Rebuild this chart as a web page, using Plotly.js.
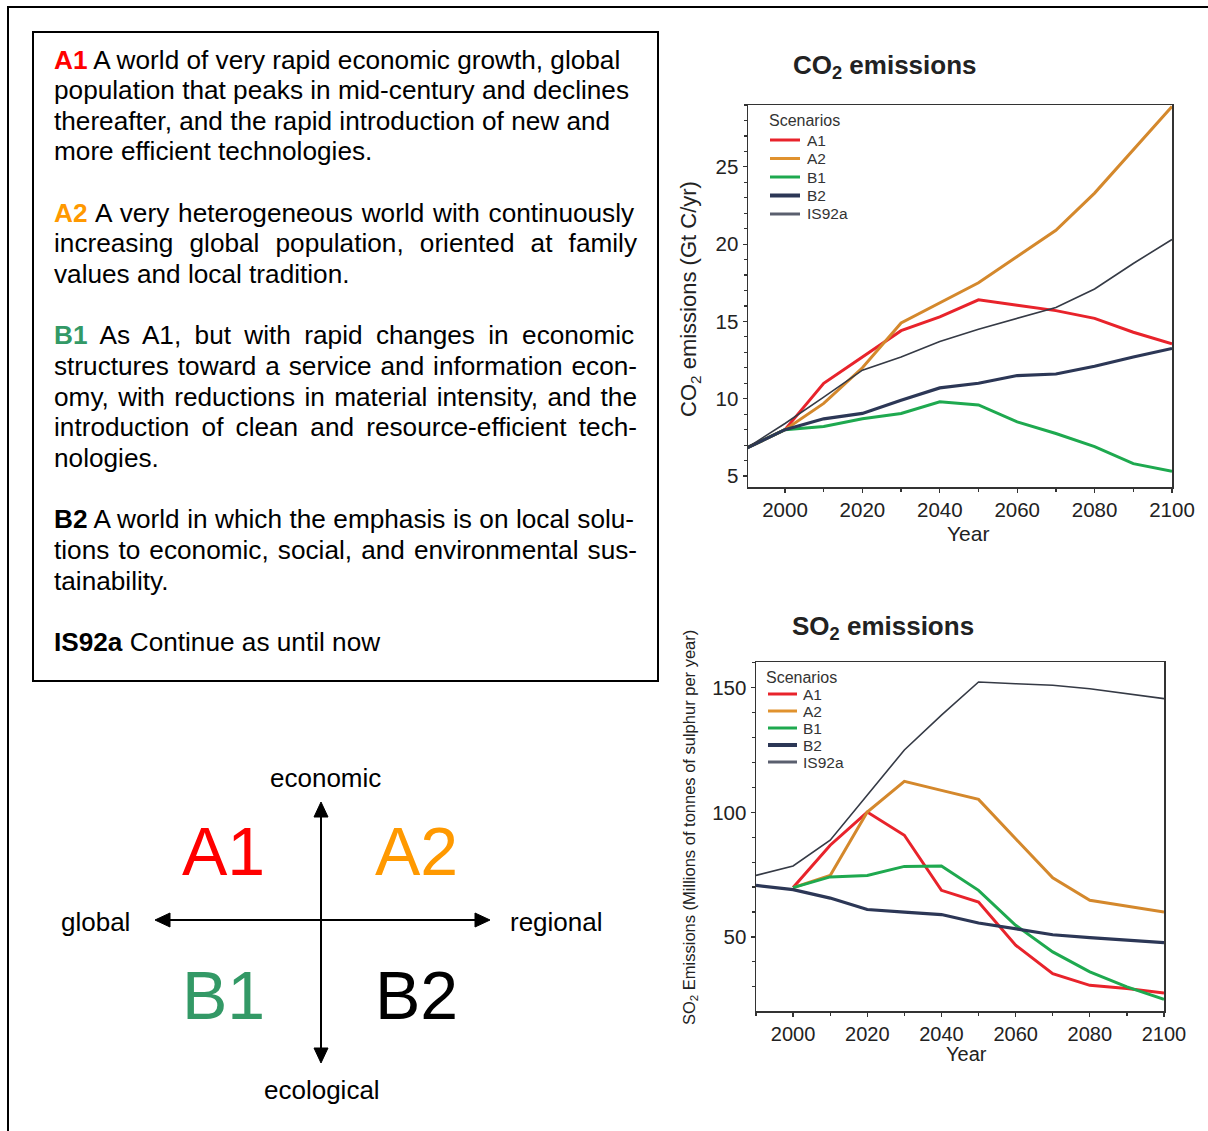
<!DOCTYPE html>
<html><head><meta charset="utf-8">
<script src="https://cdn.plot.ly/plotly-3.0.1.min.js"></script>
<style>html,body{margin:0;padding:0;overflow:hidden;background:#fff}#chart{width:1208px;height:1131px}</style>
</head><body><div id="chart"></div>
<script>
// ---------- data ----------
const years = [1990, 2000, 2010, 2020, 2030, 2040, 2050, 2060, 2070, 2080, 2090, 2100];
const scenarios = ['A1', 'A2', 'B1', 'B2', 'IS92a'];

const co2_A1    = [6.8, 8.0, 11.0, 12.7, 14.4, 15.3, 16.4, 16.05, 15.7, 15.2, 14.3, 13.55];
const co2_A2    = [6.8, 8.0, 9.7, 12.0, 14.9, 16.2, 17.5, 19.2, 20.9, 23.3, 26.1, 28.9];
const co2_B1    = [6.8, 8.0, 8.2, 8.7, 9.05, 9.8, 9.6, 8.5, 7.75, 6.9, 5.8, 5.3];
const co2_B2    = [6.8, 8.0, 8.7, 9.05, 9.9, 10.7, 11.0, 11.5, 11.6, 12.1, 12.7, 13.25];
const co2_IS92a = [6.8, 8.4, 10.1, 11.85, 12.7, 13.7, 14.5, 15.2, 15.9, 17.1, 18.75, 20.3];

const so2_A1    = [null, 69.8, 86.8, 100.1, 90.8, 68.7, 64.0, 46.7, 35.3, 30.6, 29.3, 27.5];
const so2_A2    = [null, 69.8, 74.7, 100.1, 112.4, 108.8, 105.2, 89.4, 73.7, 64.7, 62.3, 60.0];
const so2_B1    = [null, 69.8, 74.1, 74.7, 78.3, 78.5, 68.7, 54.7, 44.0, 36.0, 30.0, 25.0];
const so2_B2    = [70.7, 69.0, 65.6, 61.0, 60.0, 59.0, 55.6, 53.3, 50.9, 49.7, 48.7, 47.7];
const so2_IS92a = [74.7, 78.5, 88.8, 107.0, 125.0, 139.0, 152.3, 151.6, 151.0, 149.6, 147.6, 145.6];

const xTickVals = [2000, 2020, 2040, 2060, 2080, 2100];
const co2TickVals = [5, 10, 15, 20, 25];
const so2TickVals = [50, 100, 150];

const co2Title = 'CO<sub>2</sub> emissions';
const so2Title = 'SO<sub>2</sub> emissions';
const co2YTitle = 'CO<sub>2</sub> emissions (Gt C/yr)';
const so2YTitle = 'SO<sub>2</sub> Emissions (Millions of tonnes of sulphur per year)';
const xTitle = 'Year';
const legendTitle = 'Scenarios';

// description text: [prefix, prefix colour, rest, justified]
const descLines = [
  ['A1', '#ff0000', ' A world of very rapid economic growth, global', false],
  ['', '', 'population that peaks in mid-century and declines', false],
  ['', '', 'thereafter, and the rapid introduction of new and', false],
  ['', '', 'more efficient technologies.', false],
  null,
  ['A2', '#ff9900', ' A very heterogeneous world with continuously', true],
  ['', '', 'increasing global population, oriented at family', true],
  ['', '', 'values and local tradition.', false],
  null,
  ['B1', '#339966', ' As A1, but with rapid changes in economic', true],
  ['', '', 'structures toward a service and information econ-', true],
  ['', '', 'omy, with reductions in material intensity, and the', true],
  ['', '', 'introduction of clean and resource-efficient tech-', true],
  ['', '', 'nologies.', false],
  null,
  ['B2', '#000000', ' A world in which the emphasis is on local solu-', true],
  ['', '', 'tions to economic, social, and environmental sus-', true],
  ['', '', 'tainability.', false],
  null,
  ['IS92a', '#000000', ' Continue as until now', false]
];

const quadLabels = ['A1', 'A2', 'B1', 'B2'];
const quadColors = ['#ff0000', '#ff9900', '#339966', '#000000'];
const axisWords = ['economic', 'global', 'regional', 'ecological'];

// ---------- styling ----------
const W = 1208, H = 1131;
const px = x => x / W;
const py = y => 1 - y / H;
const FONT = '"Liberation Sans", Arial, Helvetica, sans-serif';
const lineColors = {A1: '#e8232b', A2: '#d4882c', B1: '#1ea94f', B2: '#2c3756', IS92a: '#353a45'};
const lineWidths = {A1: 3, A2: 3, B1: 3, B2: 3.2, IS92a: 1.6};
const legColors = {A1: '#e8232b', A2: '#e0922e', B1: '#1ea94f', B2: '#2c3756', IS92a: '#5a5f6e'};
const legWidths = {A1: 3, A2: 3, B1: 3, B2: 4, IS92a: 3};

const co2Data = {A1: co2_A1, A2: co2_A2, B1: co2_B1, B2: co2_B2, IS92a: co2_IS92a};
const so2Data = {A1: so2_A1, A2: so2_A2, B1: so2_B1, B2: so2_B2, IS92a: so2_IS92a};

const traces = [];
scenarios.forEach(s => traces.push({
  x: years, y: co2Data[s], name: s, type: 'scatter', mode: 'lines',
  line: {color: lineColors[s], width: lineWidths[s]}, xaxis: 'x', yaxis: 'y', showlegend: false
}));
scenarios.forEach(s => traces.push({
  x: years, y: so2Data[s], name: s, type: 'scatter', mode: 'lines',
  line: {color: lineColors[s], width: lineWidths[s]}, xaxis: 'x2', yaxis: 'y2', showlegend: false
}));

function axisBase(extra) {
  return Object.assign({
    showline: true, mirror: true, linecolor: '#333', linewidth: 1.5,
    showgrid: false, zeroline: false, ticks: 'outside', ticklen: 4, tickwidth: 1.2, tickcolor: '#333',
    tickfont: {family: FONT, size: 20.5, color: '#222'}, fixedrange: true
  }, extra);
}

// text measuring for justified lines
const ctx = document.createElement('canvas').getContext('2d');
const FS = 26.2;
function tw(t, bold) { ctx.font = (bold ? 'bold ' : '') + FS + 'px "Liberation Sans"'; return ctx.measureText(t).width; }

const annotations = [];
const shapes = [];
const LEFT = 54, RIGHT = 637;
descLines.forEach((ln, i) => {
  if (!ln) return;
  const [pre, col, rest, just] = ln;
  let ws = 0;
  if (just) {
    const total = tw(pre, true) + tw(rest, false);
    const nsp = (pre + rest).split(' ').length - 1;
    ws = (RIGHT - LEFT - total) / nsp;
  }
  let txt = '';
  if (pre) txt += '<span style="font-weight:bold;color:' + col + '">' + pre + '</span>';
  txt += '<span style="word-spacing:' + ws.toFixed(2) + 'px">' + rest + '</span>';
  annotations.push({
    xref: 'paper', yref: 'paper', x: px(LEFT - 2), y: py(59.5 + 30.65 * i),
    xanchor: 'left', yanchor: 'middle', showarrow: false, align: 'left',
    text: txt, font: {family: FONT, size: FS, color: '#000'}
  });
});

function ann(x, y, text, size, color, extra) {
  annotations.push(Object.assign({xref: 'paper', yref: 'paper', x: px(x), y: py(y), xanchor: 'center', yanchor: 'middle',
    showarrow: false, text: text, font: {family: FONT, size: size, color: color}}, extra || {}));
}

// chart titles and axis titles
ann(885, 67, '<b>' + co2Title + '</b>', 26, '#222');
ann(883, 628, '<b>' + so2Title + '</b>', 26, '#222');
ann(690, 299, co2YTitle, 22, '#222', {textangle: -90});
ann(690, 828, so2YTitle, 16.5, '#222', {textangle: -90});
ann(968, 533, xTitle, 21, '#222');
ann(966, 1054, xTitle, 20, '#222');

// legends (drawn as text + sample lines)
function legend(x0, yTitle, yFirst, step, lineX0, lineX1, textX) {
  ann(x0, yTitle, legendTitle, 16, '#333', {xanchor: 'left'});
  scenarios.forEach((s, i) => {
    const y = yFirst + step * i;
    shapes.push({type: 'line', xref: 'paper', yref: 'paper', x0: px(lineX0), x1: px(lineX1), y0: py(y), y1: py(y),
      line: {color: legColors[s], width: legWidths[s]}});
    ann(textX, y, s, 15.5, '#333', {xanchor: 'left'});
  });
}
legend(767, 120, 140, 18.5, 770, 800, 805);
legend(764, 677, 694, 17, 768, 797, 801);

// quadrant diagram
const quadPos = [[223, 851], [416, 851], [223, 995], [416, 995]];
quadLabels.forEach((q, i) => ann(quadPos[i][0], quadPos[i][1], q, 68, quadColors[i]));
const wordPos = [[325, 778], [95, 922], [556, 922], [322, 1090]];
axisWords.forEach((wd, i) => ann(wordPos[i][0], wordPos[i][1], wd, 26, '#000'));

// shapes
function rectPx(x0, y0, x1, y1, w) {
  return {type: 'rect', xref: 'paper', yref: 'paper', x0: px(x0), x1: px(x1), y0: py(y1), y1: py(y0),
    line: {color: '#000', width: w}, fillcolor: 'rgba(0,0,0,0)'};
}
function linePx(x0, y0, x1, y1) {
  return {type: 'line', xref: 'paper', yref: 'paper', x0: px(x0), x1: px(x1), y0: py(y0), y1: py(y1), line: {color: '#000', width: 2}};
}
function triPx(p) {
  const d = 'M' + p.map(q => px(q[0]) + ',' + py(q[1])).join('L') + 'Z';
  return {type: 'path', xref: 'paper', yref: 'paper', path: d, fillcolor: '#000', line: {color: '#000', width: 1}};
}
const cx = 321, cy = 920;
shapes.push(
  rectPx(8, 7, 1230, 1150, 2),
  rectPx(33, 32, 658, 681, 2),
  linePx(168, cy, 478, cy),
  linePx(cx, 815, cx, 1050),
  triPx([[155, cy], [170, cy - 7], [170, cy + 7]]),
  triPx([[490, cy], [475, cy - 7], [475, cy + 7]]),
  triPx([[cx, 802], [cx - 7, 817], [cx + 7, 817]]),
  triPx([[cx, 1063], [cx - 7, 1048], [cx + 7, 1048]])
);

const layout = {
  width: W, height: H, margin: {l: 0, r: 0, t: 0, b: 0},
  paper_bgcolor: '#fff', plot_bgcolor: '#fff', showlegend: false,
  font: {family: FONT},
  xaxis: axisBase({anchor: 'y', domain: [px(748), px(1172)], range: [1990.44, 2100], tickvals: xTickVals,
    minor: {dtick: 10, tick0: 2000, ticks: 'outside', ticklen: 3, tickcolor: '#333', showgrid: false}}),
  yaxis: axisBase({anchor: 'x', domain: [py(487), py(105)], range: [4.29, 29], tickvals: co2TickVals,
    minor: {dtick: 1, tick0: 0, ticks: 'outside', ticklen: 3, tickcolor: '#333', showgrid: false}}),
  xaxis2: axisBase({anchor: 'y2', domain: [px(756), px(1164)], range: [1990, 2100], tickvals: xTickVals,
    tickfont: {family: FONT, size: 20, color: '#222'},
    minor: {dtick: 10, tick0: 2000, ticks: 'outside', ticklen: 3, tickcolor: '#333', showgrid: false}}),
  yaxis2: axisBase({anchor: 'x2', domain: [py(1011), py(662)], range: [20.3, 160.3], tickvals: so2TickVals,
    minor: {dtick: 10, tick0: 0, ticks: 'outside', ticklen: 3, tickcolor: '#333', showgrid: false}}),
  annotations: annotations,
  shapes: shapes
};

Plotly.newPlot('chart', traces, layout, {staticPlot: true, displayModeBar: false});
</script>
</body></html>
